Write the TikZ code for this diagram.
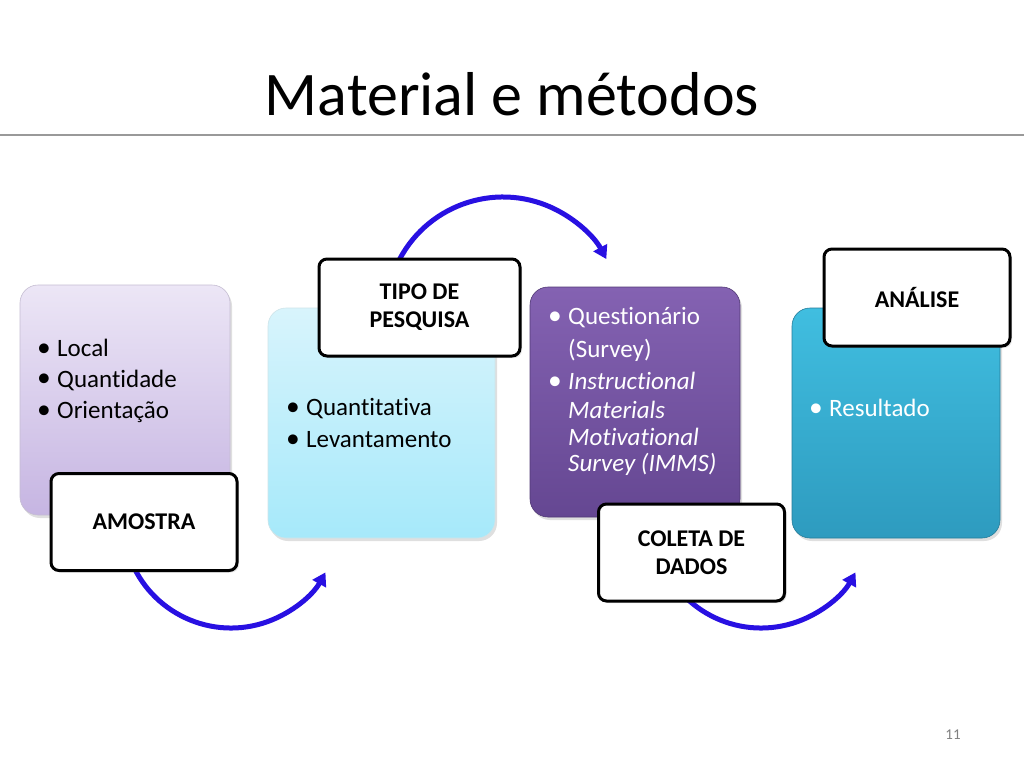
\documentclass[tikz,border=0pt]{standalone}
\usepackage{fontspec}
\setmainfont[Ligatures={NoCommon}]{Carlito}
\usetikzlibrary{arrows.meta,shadows}
\definecolor{lavT}{HTML}{ECE6F6}
\definecolor{lavB}{HTML}{C6B5E2}
\definecolor{cyaT}{HTML}{D8F4FC}
\definecolor{cyaB}{HTML}{A6E9FA}
\definecolor{purT}{HTML}{8462B2}
\definecolor{purB}{HTML}{654792}
\definecolor{teaT}{HTML}{40BEE0}
\definecolor{teaB}{HTML}{2E9BBF}
\definecolor{arr}{RGB}{40,16,226}
\newcommand{\bul}{\makebox[20pt][l]{\raisebox{0.5pt}{\scalebox{1.1}{•}}}}
\tikzset{
  colbox/.style={rounded corners=18pt, minimum width=#1, inner sep=0pt,
    drop shadow={opacity=0.25, shadow xshift=2pt, shadow yshift=-3pt}},
  labbox/.style={draw=black, line width=3pt, rounded corners=8pt, fill=white,
    minimum width=186pt, minimum height=97pt, inner sep=0pt, align=center,
    font=\fontsize{24}{28}\selectfont\bfseries,
    drop shadow={opacity=0.2, shadow xshift=2pt, shadow yshift=-2pt}},
  body/.style={anchor=west, inner sep=0pt, font=\fontsize{25}{28}\selectfont},
  flow/.style={draw=arr, line width=5pt, -{Triangle[length=13pt,width=15pt]}},
}
\begin{document}
\begin{tikzpicture}[x=1pt,y=-1pt]
\useasboundingbox (0,0) rectangle (1024,768);
\fill[white] (0,0) rectangle (1024,768);
% title
\node[inner sep=0pt, anchor=base, font=\fontsize{62}{70}\selectfont] (title) at (512,115) {Material e métodos};
\draw[gray!80, line width=1.5pt] (0,135) -- (1024,135);
% arrows (behind boxes)
\coordinate (c1) at (231,520);
\coordinate (c2) at (503,314);
\coordinate (c3) at (761,520);
\draw[flow] ([shift={(200:108pt)}]c1) arc[start angle=200, end angle=331, radius=108pt];
\draw[flow] ([shift={(155:117pt)}]c2) arc[start angle=155, end angle=28, radius=117pt];
\draw[flow] ([shift={(200:108pt)}]c3) arc[start angle=200, end angle=331, radius=108pt];
% coloured boxes
\node[colbox=210pt, minimum height=230pt, draw=lavB!80!black!60, line width=0.6pt, top color=lavT, bottom color=lavB] (b1) at (125,400) {};
\node[colbox=227pt, minimum height=230pt, draw=cyaB!80!black!40, line width=0.6pt, top color=cyaT, bottom color=cyaB] (b2) at (381.5,423) {};
\node[colbox=210pt, minimum height=230pt, draw=purB!80!black, line width=0.6pt, top color=purT, bottom color=purB] (b3) at (635,402) {};
\node[colbox=208pt, minimum height=230pt, draw=teaB!80!black, line width=0.6pt, top color=teaT, bottom color=teaB] (b4) at (896,423) {};
% box texts
\node[body] (t1a) at (37,348) {\bul Local};
\node[body] (t1b) at (37,380) {\bul Quantidade};
\node[body] (t1c) at (37,412) {\bul Orientação};
\node[body] (t2a) at (286,409) {\bul Quantitativa};
\node[body] (t2b) at (286,440) {\bul Levantamento};
\node[body, white] (t3a) at (548,318) {\bul Questionário};
\node[body, white] (t3b) at (568,350) {(Survey)};
\node[body, white] (t3c) at (548,381) {\bul\textit{Instructional}};
\node[body, white] (t3d) at (568,410) {\textit{Materials}};
\node[body, white] (t3e) at (568,437) {\textit{Motivational}};
\node[body, white] (t3f) at (568,464) {\textit{Survey (IMMS)}};
\node[body, white] (t4a) at (809,408) {\bul Resultado};
% label boxes
\node[labbox] (l1) at (144,522) {AMOSTRA};
\node[labbox, minimum width=201pt] (l2) at (419.5,307.5) {TIPO DE\\PESQUISA};
\node[labbox] (l3) at (691.5,552.5) {COLETA DE\\DADOS};
\node[labbox] (l4) at (917,297.5) {ANÁLISE};
% page number
\node[inner sep=0pt, font=\fontsize{15}{17}\selectfont, text=gray] (pg) at (953,735) {11};
\end{tikzpicture}
\end{document}
